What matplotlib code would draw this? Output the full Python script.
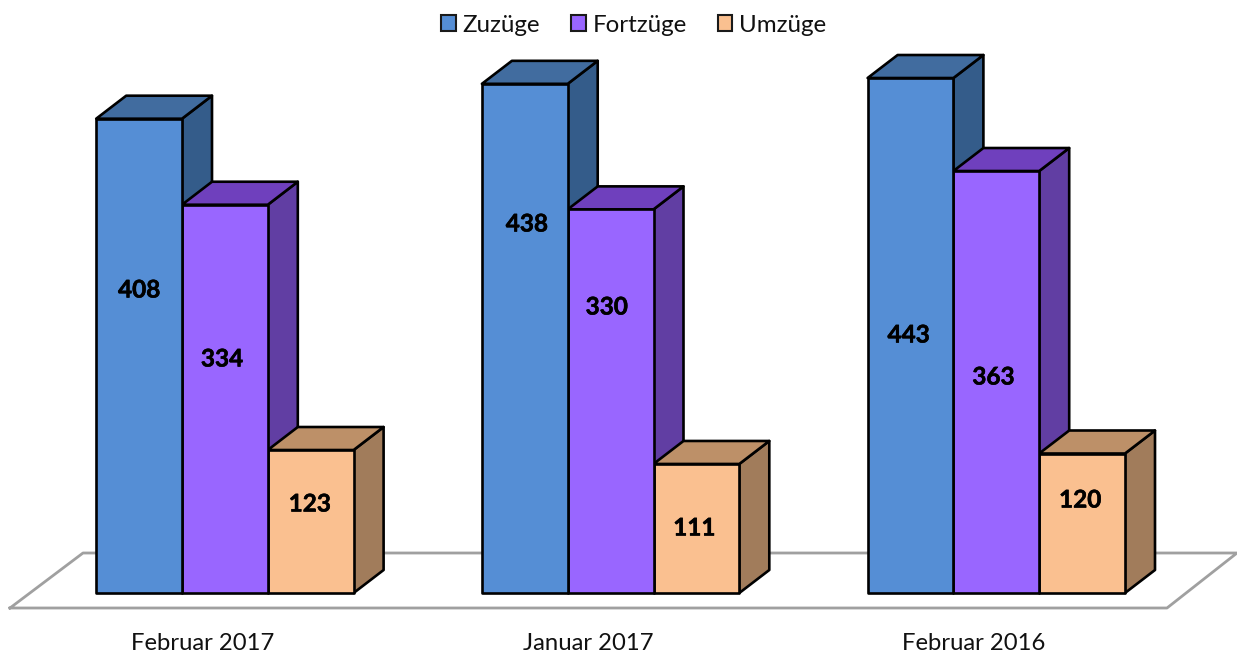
import matplotlib
matplotlib.use("Agg")
import matplotlib.pyplot as plt
import matplotlib.patheffects as pe
from matplotlib.patches import Polygon, Patch
from matplotlib.lines import Line2D

categories = ["Februar 2017", "Januar 2017", "Februar 2016"]
series_names = ["Zuzüge", "Fortzüge", "Umzüge"]
zuzuege = [408, 438, 443]
fortzuege = [334, 330, 363]
umzuege = [123, 111, 120]
front_colors = ["#558ed5", "#9966ff", "#fac090"]
top_colors = ["#416c9f", "#6f40bd", "#bd9068"]
side_colors = ["#345c8a", "#613ea3", "#a17c5b"]

# label anchor heights and horizontal nudges (pixels), one row per series
label_height_px = [[303, 369, 258], [234, 286, 216], [89, 65, 93]]
label_nudge_px = [[0, 2, -2], [-3, -4, -3], [-1, -2, -2]]

plt.rcParams["font.family"] = ["Lato", "DejaVu Sans"]
W, H = 1237, 655
fig = plt.figure(figsize=(W / 100, H / 100), dpi=100)
ax = fig.add_axes([0, 0, 1, 1])
PX_X = 385.7
PX_Y = 1.1625
X0 = 224.9
Y0 = 593.0
ax.set_xlim(-X0 / PX_X, (W - X0) / PX_X)
ax.set_ylim(-(H - Y0) / PX_Y, Y0 / PX_Y)
ax.axis("off")

bw = 85.8 / PX_X
dx = 30.0 / PX_X
dy = 23.0 / PX_Y

# floor
fl = [(10, 608), (83, 553), (1237, 553), (1167, 608), (10, 608)]
ax.add_line(Line2D([(p[0] - X0) / PX_X for p in fl], [(Y0 - p[1]) / PX_Y for p in fl],
                   color="#a0a0a0", lw=2, zorder=1))

all_series = [zuzuege, fortzuege, umzuege]
ec = "black"
lw = 1.9
for g, cat in enumerate(categories):
    # left to right: each bar's top and side cover the side of the bar before it
    for s in [0, 1, 2]:
        v = all_series[s][g]
        x = g + (s - 1.5) * bw
        ax.add_patch(Polygon([(x + bw, 0), (x + bw + dx, dy), (x + bw + dx, v + dy), (x + bw, v)],
                             fc=side_colors[s], ec=ec, lw=lw, joinstyle="round", zorder=2 + s))
        ax.add_patch(Polygon([(x, v), (x + dx, v + dy), (x + bw + dx, v + dy), (x + bw, v)],
                             fc=top_colors[s], ec=ec, lw=lw, joinstyle="round", zorder=2 + s))
    for s in [2, 1, 0]:
        v = all_series[s][g]
        x = g + (s - 1.5) * bw
        ax.add_patch(Polygon([(x, 0), (x + bw, 0), (x + bw, v), (x, v)],
                             fc=front_colors[s], ec=ec, lw=lw, joinstyle="round", zorder=6))
        ax.text(x + bw / 2 + label_nudge_px[s][g] / PX_X, label_height_px[s][g] / PX_Y,
                str(v), ha="center", va="center", fontsize=17.5, fontweight="bold", color="black",
                zorder=8, path_effects=[pe.withStroke(linewidth=0.4, foreground="black")])
    ax.text(g - 22.5 / PX_X, -51 / PX_Y, cat, ha="center", va="center", fontsize=17.2, color="#111111")

handles = [Patch(fc=front_colors[i], ec="#1a1a1a", lw=1.5) for i in range(3)]
fig.legend(handles, series_names, loc="upper center", bbox_to_anchor=(0.5123, 1.0), ncol=3,
           frameon=False, fontsize=17.4, handlelength=0.6, handleheight=0.66, handletextpad=0.28,
           columnspacing=1.28, borderaxespad=0.2, labelcolor="#111111")
fig.savefig("out.png", dpi=100)
